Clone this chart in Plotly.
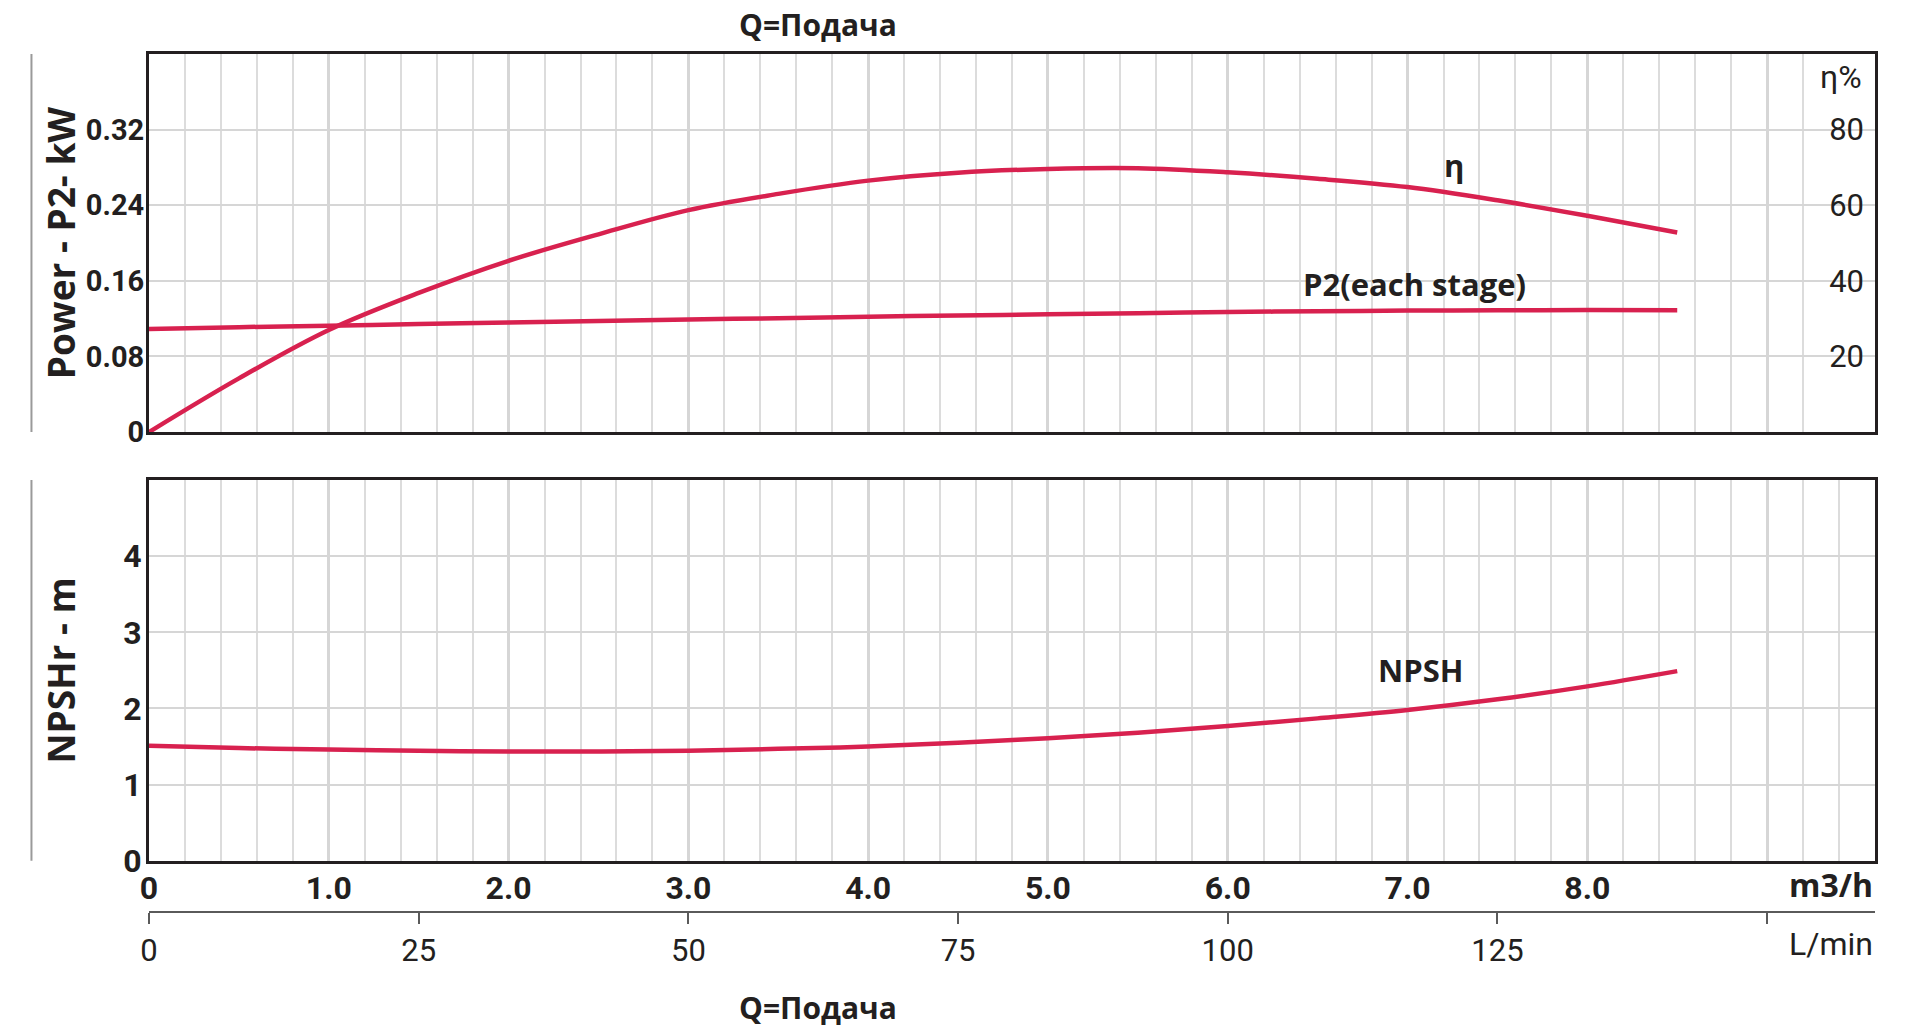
import plotly.graph_objects as go

# ---------------- data ----------------
flow_m3h = [0, 0.5, 1.0, 1.5, 2.0, 2.5, 3.0, 3.5, 4.0, 4.5, 5.0, 5.5, 6.0, 6.5, 7.0, 7.5, 8.0, 8.5]
eta_pct = [0, 14.2, 27.0, 36.8, 45.3, 52.3, 58.7, 63.0, 66.5, 68.6, 69.6, 69.8, 68.7, 67.0, 64.8, 61.3, 57.2, 52.8]
p2_kw = [0.109, 0.111, 0.1125, 0.1143, 0.116, 0.1175, 0.119, 0.1205, 0.122, 0.1233,
         0.1245, 0.1258, 0.127, 0.1278, 0.1285, 0.1288, 0.129, 0.1288]
npsh_m = [1.51, 1.48, 1.46, 1.445, 1.435, 1.435, 1.445, 1.47, 1.50, 1.55,
          1.61, 1.68, 1.77, 1.87, 1.98, 2.12, 2.29, 2.49]

q_ticks = [0, 1, 2, 3, 4, 5, 6, 7, 8, 9]
q_ticktext = ["0", "1.0", "2.0", "3.0", "4.0", "5.0", "6.0", "7.0", "8.0", ""]
lmin_ticks = [0, 25, 50, 75, 100, 125, 150]
lmin_ticktext = ["0", "25", "50", "75", "100", "125", ""]
p_ticks = [0, 0.08, 0.16, 0.24, 0.32]
p_ticktext = ["0", "0.08", "0.16", "0.24", "0.32"]
eta_ticks = [20, 40, 60, 80]
npsh_ticks = [0, 1, 2, 3, 4]

# ---------------- styling ----------------
RED = "#d8214f"
DARK = "#231f20"
GRID = "#d6d6d6"
FONT = "Open Sans"
TICKF = "Roboto"

fig = go.Figure()

fig.add_trace(go.Scatter(x=flow_m3h, y=eta_pct, mode="lines", line=dict(color=RED, width=4.5, shape="spline"),
                         xaxis="x", yaxis="y2", hoverinfo="skip", name="η"))
fig.add_trace(go.Scatter(x=flow_m3h, y=p2_kw, mode="lines", line=dict(color=RED, width=4.5, shape="spline"),
                         xaxis="x", yaxis="y", hoverinfo="skip", name="P2"))
fig.add_trace(go.Scatter(x=flow_m3h, y=npsh_m, mode="lines", line=dict(color=RED, width=4.5, shape="spline"),
                         xaxis="x2", yaxis="y3", hoverinfo="skip", name="NPSH"))
# carrier trace for the L/min axis
fig.add_trace(go.Scatter(x=[0, 160], y=[0, 0], mode="lines", line=dict(width=0), opacity=0,
                         xaxis="x3", yaxis="y3", hoverinfo="skip", showlegend=False))

top_dom = [0.5594, 1.0]
bot_dom = [0.0597, 0.5035]

xgrid = dict(range=[0, 9.6], tickmode="array", tickvals=q_ticks, showgrid=True, gridcolor=GRID, gridwidth=3,
             minor=dict(dtick=0.2, tick0=0, showgrid=True, gridcolor="#dcdcdc", gridwidth=1.5),
             showline=True, mirror=True, linecolor=DARK, linewidth=3, zeroline=False, ticks="")

fig.update_layout(
    width=1920, height=1030,
    margin=dict(l=149, r=45, t=54, b=118),
    plot_bgcolor="white", paper_bgcolor="white", showlegend=False,
    xaxis=dict(domain=[0, 1], anchor="y", showticklabels=False, **xgrid),
    yaxis=dict(domain=top_dom, anchor="x", range=[0, 0.4], tickmode="array", tickvals=p_ticks,
               ticktext=p_ticktext, showgrid=True, gridcolor=GRID, gridwidth=2, showline=True, mirror=True,
               linecolor=DARK, linewidth=3, zeroline=False, ticks="", ticklabelstandoff=-4,
               tickfont=dict(family=TICKF, size=29, color=DARK, weight="bold")),
    yaxis2=dict(overlaying="y", side="right", anchor="x", range=[0, 100], tickmode="array",
                tickvals=eta_ticks, showgrid=False, zeroline=False, showline=False,
                ticklabelposition="inside", ticks="", ticklabelstandoff=8,
                tickfont=dict(family=TICKF, size=31, color=DARK)),
    xaxis2=dict(domain=[0, 1], anchor="y3", matches="x", ticktext=q_ticktext, showticklabels=True,
                tickfont=dict(family=TICKF, size=32, color=DARK, weight="bold"),
                ticklabelstandoff=-3, **xgrid),
    yaxis3=dict(domain=bot_dom, anchor="x2", range=[0, 5], tickmode="array", tickvals=npsh_ticks,
                showgrid=True, gridcolor=GRID, gridwidth=2, showline=True, mirror=True,
                linecolor=DARK, linewidth=3, zeroline=False, ticks="", ticklabelstandoff=-2,
                tickfont=dict(family=TICKF, size=32, color=DARK, weight="bold")),
    xaxis3=dict(overlaying="x2", anchor="free", position=0, side="bottom", range=[0, 160],
                tickmode="array", tickvals=lmin_ticks, ticktext=lmin_ticktext, ticks="outside",
                ticklen=11, tickwidth=1.5, tickcolor="#5a5a5a", showline=True, linecolor="#5a5a5a",
                linewidth=1.5, showgrid=False, zeroline=False,
                tickfont=dict(family=TICKF, size=31, color=DARK)),
)

ann = []
title_font = dict(family=FONT, size=30, color=DARK, weight="bold")
ann.append(dict(text="Q=Подача", xref="paper", yref="paper", x=0.3875, y=1.0338, showarrow=False,
                xanchor="center", yanchor="middle", font=title_font))
ann.append(dict(text="Q=Подача", xref="paper", yref="paper", x=0.3875, y=(912 - 1007) / 858, showarrow=False,
                xanchor="center", yanchor="middle", borderpad=0, font=title_font))
axis_font = dict(family=FONT, size=37, color=DARK, weight="bold")
ann.append(dict(text="Power - P2- kW", xref="paper", yref="y domain", x=-0.0515, y=0.5, textangle=-90,
                showarrow=False, xanchor="center", yanchor="middle", font=axis_font))
ann.append(dict(text="NPSHr - m", xref="paper", yref="y3 domain", x=-0.0515, y=0.5, textangle=-90,
                showarrow=False, xanchor="center", yanchor="middle", font=axis_font))
lab_font = dict(family=FONT, size=31, color=DARK, weight="bold")
ann.append(dict(text="η", xref="x", yref="y", x=7.26, y=0.283, showarrow=False, font=lab_font))
ann.append(dict(text="P2(each stage)", xref="x", yref="y", x=7.04, y=0.157, showarrow=False, font=lab_font))
ann.append(dict(text="NPSH", xref="x2", yref="y3", x=7.07, y=2.5, showarrow=False, font=lab_font))
ann.append(dict(text="η%", xref="paper", yref="paper", x=0.9936, y=(912 - 77) / 858, showarrow=False,
                xanchor="right", yanchor="middle", font=dict(family=TICKF, size=32, color=DARK)))
ann.append(dict(text="m3/h", xref="paper", yref="paper", x=1.0, y=(912 - 884) / 858, showarrow=False,
                xanchor="right", yanchor="middle", font=dict(family=FONT, size=32, color=DARK, weight="bold")))
ann.append(dict(text="L/min", xref="paper", yref="paper", x=1.0, y=(912 - 944) / 858, showarrow=False,
                xanchor="right", yanchor="middle", font=dict(family=TICKF, size=32, color=DARK)))
fig.update_layout(annotations=ann)

# thin grey bars at far left beside each panel
for yref in ["y domain", "y3 domain"]:
    fig.add_shape(type="line", xref="paper", yref=yref, x0=-0.0681, x1=-0.0681, y0=0, y1=1,
                  line=dict(color="#9a9a9a", width=2))

fig.write_html("out.html")
